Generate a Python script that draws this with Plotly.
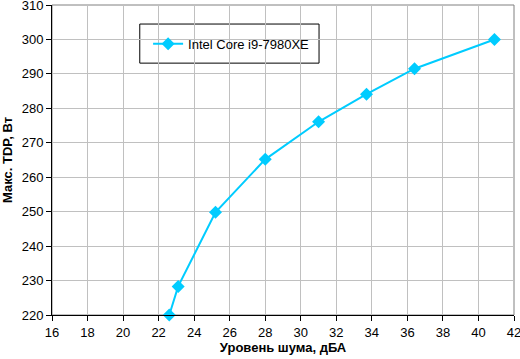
import plotly.graph_objects as go

noise_dba = [22.6, 23.1, 25.2, 28.0, 31.0, 33.7, 36.4, 40.9]
tdp_w = [220.0, 228.3, 249.8, 265.2, 276.1, 284.1, 291.5, 300.0]
series_name = "Intel Core i9-7980XE"
x_title = "Уровень шума, дБА"
y_title = "Макс. TDP, Вт"

color = "#00CCFF"
font = "Liberation Sans, Arial, sans-serif"

fig = go.Figure()
fig.add_trace(go.Scatter(
    x=noise_dba, y=tdp_w, name=series_name, mode="lines+markers",
    line=dict(color=color, width=2),
    marker=dict(symbol="diamond", size=10, color=color),
    cliponaxis=False,
))

fig.update_layout(
    width=520, height=359,
    margin=dict(l=52, r=6, t=5, b=44),
    paper_bgcolor="white", plot_bgcolor="white",
    font=dict(family=font, size=13, color="black"),
    showlegend=True,
    legend=dict(x=0.208, y=0.875, xanchor="left", yanchor="middle",
                bgcolor="rgba(0,0,0,0)", borderwidth=0,
                font=dict(family=font, size=13, color="black")),
    shapes=[
        dict(type="rect", xref="paper", yref="paper", x0=0, x1=1, y0=0, y1=1,
             line=dict(color="#808080", width=1), layer="below"),
        dict(type="rect", xref="paper", yref="paper", x0=0.19, x1=0.578, y0=0.8125, y1=0.9386,
             line=dict(color="black", width=1), fillcolor="white", layer="below"),
    ],
)
fig.update_xaxes(
    range=[16, 42], dtick=2, tick0=16, automargin=False, ticklabeloverflow="allow",
    showgrid=True, gridcolor="#C0C0C0", gridwidth=1,
    showline=True, linecolor="black", linewidth=1,
    ticks="outside", ticklen=5, tickcolor="black",
    zeroline=False,
    title=dict(text="<b>" + x_title + "</b>", standoff=4, font=dict(family=font, size=13)),
    tickfont=dict(family=font, size=13),
)
fig.update_yaxes(
    range=[220, 310], dtick=10, tick0=220, automargin=False, ticklabeloverflow="allow",
    showgrid=True, gridcolor="#C0C0C0", gridwidth=1,
    showline=True, linecolor="black", linewidth=1,
    ticks="outside", ticklen=5, tickcolor="black",
    zeroline=False,
    title=dict(text="<b>" + y_title + "</b>", standoff=6, font=dict(family=font, size=13)),
    tickfont=dict(family=font, size=13),
)

fig.write_html("out.html", config={"displayModeBar": False},
               post_script="document.body.style.margin='0';document.body.style.overflow='hidden';")
